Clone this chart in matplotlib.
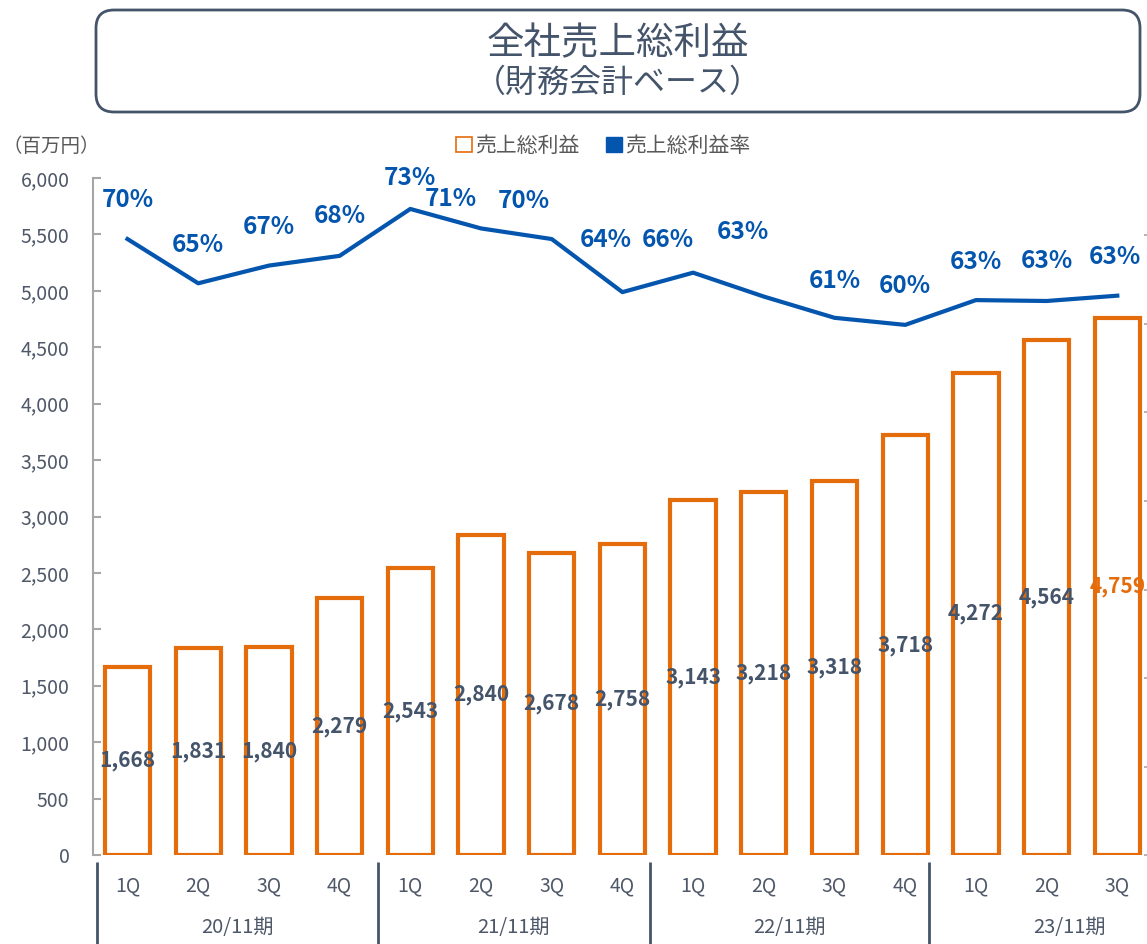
import matplotlib
matplotlib.use("Agg")
import matplotlib.pyplot as plt
from matplotlib.patches import FancyBboxPatch, Patch
from matplotlib.transforms import IdentityTransform, blended_transform_factory
from matplotlib.ticker import FuncFormatter, MultipleLocator

plt.rcParams['font.family'] = ['Noto Sans CJK JP', 'DejaVu Sans']

# ---------------- data ----------------
quarters = ["1Q", "2Q", "3Q", "4Q", "1Q", "2Q", "3Q", "4Q",
            "1Q", "2Q", "3Q", "4Q", "1Q", "2Q", "3Q"]
periods = ["20/11期", "21/11期", "22/11期", "23/11期"]
gross_profit = [1668, 1831, 1840, 2279, 2543, 2840, 2678, 2758,
                3143, 3218, 3318, 3718, 4272, 4564, 4759]
gross_margin = [69.6, 64.6, 66.6, 67.7, 73.0, 70.8, 69.6, 63.6,
                65.8, 63.1, 60.7, 59.9, 62.7, 62.6, 63.2]
yticks = list(range(0, 6001, 500))

# ---------------- style ----------------
ORANGE = "#E46C0A"
BLUE = "#0455AE"
SLATE = "#44546A"
TICKC = "#4F5868"
GRAY = "#595959"
# label offsets (pixels) for the margin labels
lab_dx = [0, 0, 0, 0, 0, -30, -28, -17, -25, -21, 0, 0, 0, 0, -2]
lab_dy = [39, 38, 39, 40, 31, 29, 38, 52, 33, 65, 37, 39, 38, 40, 39]
# group boundaries (in category units)
bounds = [-0.43, 3.54, 7.39, 11.34, 15.3]

W, H = 1147, 944
fig = plt.figure(figsize=(W / 100, H / 100), dpi=100)
fig.patch.set_facecolor("white")

left_px, right_px, top_px, bot_px = 93, 1150, 178, 855
ax = fig.add_axes([left_px / W, 1 - bot_px / H,
                   (right_px - left_px) / W, (bot_px - top_px) / H])
step = 70.7
x0 = -(127.5 - left_px) / step
x1 = (right_px - 127.5) / step

x = list(range(len(gross_profit)))
bars = ax.bar(x, gross_profit, width=0.64, facecolor="white",
              edgecolor=ORANGE, linewidth=3.0, zorder=2)
ax.set_xlim(x0, x1)
ax.set_ylim(0, 6000)
ax.set_yticks(yticks)
ax.yaxis.set_major_formatter(FuncFormatter(lambda v, p: f"{int(v):,}"))
ax.tick_params(axis="y", direction="in", length=6, width=1.5,
               color="#A6A6A6", labelcolor=TICKC, labelsize=14, pad=17)
for s in ["top", "right", "bottom"]:
    ax.spines[s].set_visible(False)
ax.spines["left"].set_color("#A6A6A6")
ax.spines["left"].set_linewidth(1.5)

ax.set_xticks(x)
ax.set_xticklabels(quarters)
ax.tick_params(axis="x", length=0, labelsize=14, labelcolor=TICKC, pad=15)

labels = ax.bar_label(bars, labels=[f"{v:,}" for v in gross_profit],
                      label_type="center", fontsize=15, fontweight="bold",
                      color=SLATE)
labels[-1].set_color(ORANGE)

# group separators and period labels
tr = blended_transform_factory(ax.transData, ax.transAxes)
ysep0 = -(862 - bot_px) / (bot_px - top_px)
ysep1 = -(H - bot_px) / (bot_px - top_px)
for b in bounds[:-1]:
    ax.plot([b, b], [ysep0, ysep1 - 0.01], transform=tr, color=SLATE,
            linewidth=2, clip_on=False, solid_capstyle="butt")
yper = -(928 - bot_px) / (bot_px - top_px)
for i, p in enumerate(periods):
    ax.text((bounds[i] + bounds[i + 1]) / 2, yper, p, transform=tr,
            ha="center", va="center", fontsize=14.5, color=TICKC, clip_on=False)

# secondary axis for margin
ax2 = ax.twinx()
ax2.set_ylim(0, (bot_px - top_px) / 8.85)
ax2.plot(x, gross_margin, color=BLUE, linewidth=3, zorder=3,
         solid_joinstyle="round")
ax2.yaxis.set_major_locator(MultipleLocator(10))
ax2.tick_params(axis="y", direction="in", length=4, width=1.2,
                color="#A6A6A6", labelright=False)
for s in ax2.spines.values():
    s.set_visible(False)
for i, v in enumerate(gross_margin):
    ax2.annotate(f"{v:.0f}%", (x[i], v), xytext=(lab_dx[i], lab_dy[i]),
                 textcoords="offset pixels", ha="center", va="center",
                 fontsize=17.5, fontweight="bold", color=BLUE, zorder=5,
                 annotation_clip=False)

# legend
handles = [Patch(facecolor="white", edgecolor=ORANGE, linewidth=1.2),
           Patch(facecolor=BLUE, edgecolor=BLUE)]
fig.legend(handles, ["売上総利益", "売上総利益率"], ncol=2, frameon=False,
           loc="center", bbox_to_anchor=(603 / W, 1 - 146 / H),
           fontsize=15, labelcolor=GRAY, handlelength=0.75,
           handleheight=0.75, handletextpad=0.15, columnspacing=1.3)
fig.text(2 / W, 1 - 146 / H, "（百万円）", ha="left", va="center",
         fontsize=14, color=GRAY)

# title box
box = FancyBboxPatch((96, H - 112), 1044, 102,
                     boxstyle="round,pad=0,rounding_size=18",
                     transform=IdentityTransform(), facecolor="white",
                     edgecolor=SLATE, linewidth=2)
fig.patches.append(box)
fig.text(618 / W, 1 - 44 / H, "全社売上総利益", ha="center", va="center",
         fontsize=27, color=SLATE)
fig.text(618 / W, 1 - 83 / H, "（財務会計ベース）", ha="center", va="center",
         fontsize=23, color=SLATE)

fig.savefig("out.png", dpi=100)
